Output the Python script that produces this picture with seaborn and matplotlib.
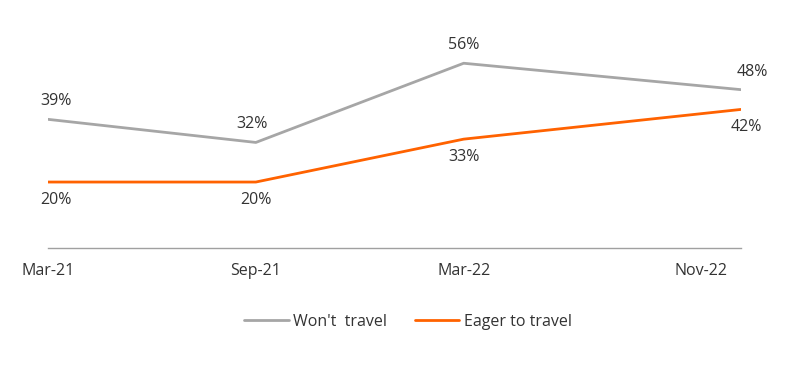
import matplotlib
matplotlib.use("Agg")
import matplotlib.pyplot as plt
import matplotlib.transforms as mtransforms
import seaborn as sns
import pandas as pd

periods = ["Mar-21", "Sep-21", "Mar-22", "Nov-22"]
month_index = [0, 6, 12, 20]  # months since Mar-21
wont_travel = [39, 32, 56, 48]
eager_travel = [20, 20, 33, 42]
series_names = ["Won't  travel", "Eager to travel"]
colors = {"Won't  travel": "#A6A6A6", "Eager to travel": "#FF6200"}

df = pd.DataFrame({
    "month": month_index * 2,
    "value": wont_travel + eager_travel,
    "series": [series_names[0]] * 4 + [series_names[1]] * 4,
})

sns.set_theme(style="white")
plt.rcParams["font.family"] = ["Open Sans", "DejaVu Sans"]

fig = plt.figure(figsize=(8, 3.68), dpi=100)
ax = fig.add_axes([0.06, 0.326, 0.866, 0.538])
sns.lineplot(data=df, x="month", y="value", hue="series", palette=colors,
             hue_order=series_names, linewidth=2, ax=ax, legend=True)

ax.set_xlim(month_index[0], month_index[-1])
ax.set_ylim(0, 60)
ax.set_yticks([])
ax.set_xlabel("")
ax.set_ylabel("")
for s in ["top", "right", "left"]:
    ax.spines[s].set_visible(False)
ax.spines["bottom"].set_color("#A0A0A0")
ax.spines["bottom"].set_linewidth(1)
ax.set_xticks(month_index)
ax.set_xticklabels(periods, fontsize=11.5, color="#333333")
ax.tick_params(axis="x", length=0, pad=11)
# shift last tick label left like reference
lbls = ax.get_xticklabels()
off = mtransforms.ScaledTranslation(-0.40, 0, fig.dpi_scale_trans)
lbls[-1].set_transform(lbls[-1].get_transform() + off)

# data labels
wont_dx = [6, -3, 0, 8]
eager_dx = [6, 0, 0, 4]
for x, v, dx in zip(month_index, wont_travel, wont_dx):
    ax.annotate(f"{v}%", (x, v), xytext=(dx, 13), textcoords="offset points",
                ha="center", va="center", fontsize=11.5, color="#333333")
for x, v, dx in zip(month_index, eager_travel, eager_dx):
    ax.annotate(f"{v}%", (x, v), xytext=(dx, -13), textcoords="offset points",
                ha="center", va="center", fontsize=11.5, color="#333333")

leg = ax.legend(loc="center", ncol=2, frameon=False, fontsize=11.5, handlelength=2.8,
                columnspacing=1.7, handletextpad=0.3)
leg.set_bbox_to_anchor((0.51, (368 - 322) / 368), transform=fig.transFigure)
for t in leg.get_texts():
    t.set_color("#333333")

fig.savefig("out.png", dpi=100, facecolor="white")
